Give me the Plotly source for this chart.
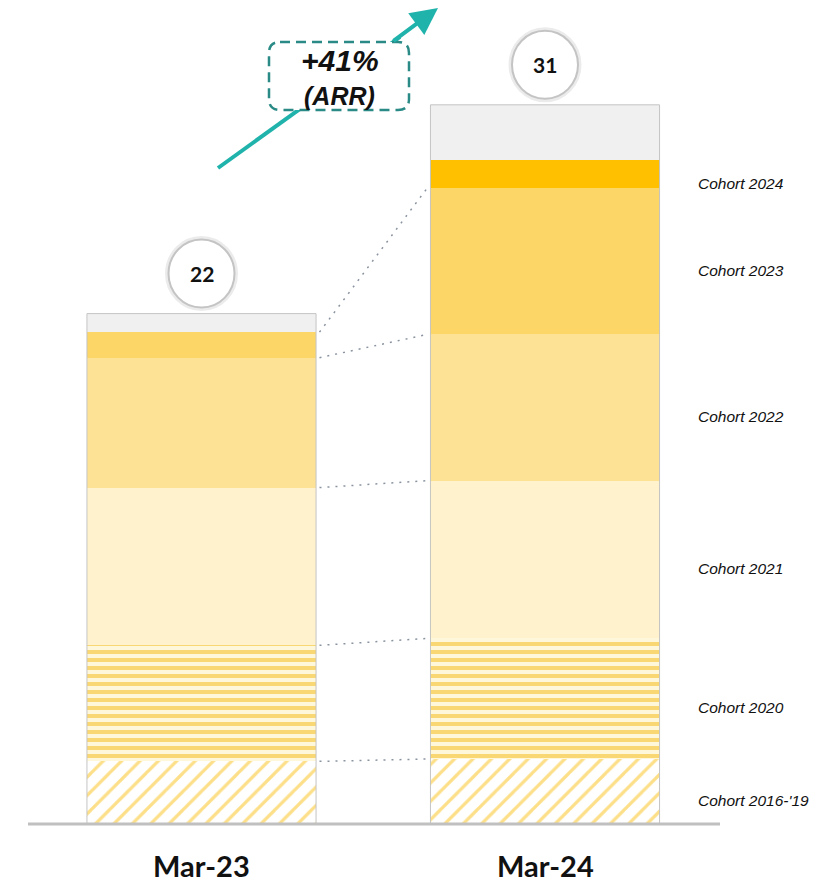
import plotly.graph_objects as go

# ---- data ----
periods = ["Mar-23", "Mar-24"]
totals = [22, 31]
cohorts = ["Cohort 2016-'19", "Cohort 2020", "Cohort 2021", "Cohort 2022",
           "Cohort 2023", "Cohort 2024", "Other"]
arr_mar23 = [2.7, 5.0, 6.8, 5.6, 1.1, 0.0, 0.8]
arr_mar24 = [2.8, 5.2, 6.8, 6.3, 6.3, 1.2, 2.4]
growth_label = "+41%"
growth_sub = "(ARR)"

# ---- canvas geometry ----
W, H = 820, 885
BAR_W = 0.667
px_per_x = 343.5          # pixels between the two bar centres
x_first = 201.5           # pixel centre of the first bar
px_per_y = 23.2
base_px = 824             # pixel row of y = 0


def px(x):
    return x / W


def py(y):
    return 1 - y / H


x_range = [-x_first / px_per_x, (W - x_first) / px_per_x]
y_range = [-(H - base_px) / px_per_y, base_px / px_per_y]

styles = [
    dict(color="#FFFFFF", pattern=dict(shape="/", fgcolor="#FDDF88", bgcolor="#FFFFFF",
                                       size=13, solidity=0.25, fillmode="replace")),
    dict(color="#FFF7D9", pattern=dict(shape="-", fgcolor="#F9D772", bgcolor="#FFF7D9",
                                       size=8, solidity=0.5, fillmode="replace")),
    dict(color="#FFF2CC"),
    dict(color="#FDE296"),
    dict(color="#FCD767"),
    dict(color="#FFC000"),
    dict(color="#F0F0F0"),
]

fig = go.Figure()
series = [arr_mar23, arr_mar24]
for k, name in enumerate(cohorts):
    m = dict(styles[k])
    m["line"] = dict(width=0)
    fig.add_trace(go.Bar(
        x=[0, 1], y=[series[0][k], series[1][k]], name=name,
        width=BAR_W, marker=m, hoverinfo="skip", showlegend=False,
    ))

shapes = []
annotations = []

# outline around each full bar
for i, tot in enumerate(totals):
    shapes.append(dict(type="rect", xref="x", yref="y", x0=i - BAR_W / 2, x1=i + BAR_W / 2,
                       y0=0, y1=sum(series[i]), line=dict(color="#C4C4C4", width=1),
                       layer="above"))

# baseline
shapes.append(dict(type="line", xref="paper", yref="y", x0=px(28), x1=px(720), y0=0, y1=0,
                   line=dict(color="#C0C0C0", width=3), layer="above"))

# dotted connectors between matching cohort boundaries
cum = []
for s in series:
    c, acc = [], 0.0
    for v in s:
        acc += v
        c.append(acc)
    cum.append(c)
for k in range(5):
    fig.add_trace(go.Scatter(
        x=[BAR_W / 2 + 0.01, 1 - BAR_W / 2 - 0.01], y=[cum[0][k], cum[1][k]],
        mode="lines", line=dict(color="#8A94A0", width=1.5, dash="2px,6px"),
        hoverinfo="skip", showlegend=False,
    ))

# total bubbles
for i, tot in enumerate(totals):
    top = sum(series[i])
    shapes.append(dict(type="circle", xref="x", yref="y", xsizemode="pixel", ysizemode="pixel",
                       xanchor=i, yanchor=top, x0=-34, x1=34, y0=5, y1=75,
                       line=dict(color="rgba(0,0,0,0.08)", width=5), fillcolor="#FFFFFF",
                       layer="above"))
    shapes.append(dict(type="circle", xref="x", yref="y", xsizemode="pixel", ysizemode="pixel",
                       xanchor=i, yanchor=top, x0=-33, x1=33, y0=6, y1=74,
                       line=dict(color="#C4C4C4", width=2), fillcolor="#FFFFFF",
                       layer="above"))
    annotations.append(dict(x=i, y=top, xref="x", yref="y", yshift=40, showarrow=False,
                            xanchor="center", yanchor="middle",
                            text=f"<b>{tot}</b>", font=dict(family="Lato", size=21, color="#111111")))

# period labels
for i, p in enumerate(periods):
    annotations.append(dict(x=i, y=-1.8, xref="x", yref="y", showarrow=False,
                            xanchor="center", yanchor="middle",
                            text=f"<b>{p}</b>", font=dict(family="Lato", size=29, color="#111111")))

# cohort labels beside the second bar
for k, name in enumerate(cohorts[:-1]):
    mid = cum[1][k] - series[1][k] / 2
    annotations.append(dict(x=px(696), y=mid, xref="paper", yref="y", xanchor="left",
                            yanchor="middle", yshift=-9, showarrow=False, text=f"<i>{name}</i>",
                            font=dict(family="Liberation Sans", size=15.5, color="#111111")))

# growth arrow
teal = "#20B3AC"
shapes.append(dict(type="line", xref="paper", yref="paper", x0=px(218), y0=py(168),
                   x1=px(400), y1=py(37), line=dict(color=teal, width=4), layer="above"))

bx0, bx1, by0, by1, r = 269, 409, 42, 110, 11
path = (f"M{px(bx0 + r)},{py(by0)} L{px(bx1 - r)},{py(by0)} "
        f"Q{px(bx1)},{py(by0)} {px(bx1)},{py(by0 + r)} "
        f"L{px(bx1)},{py(by1 - r)} Q{px(bx1)},{py(by1)} {px(bx1 - r)},{py(by1)} "
        f"L{px(bx0 + r)},{py(by1)} Q{px(bx0)},{py(by1)} {px(bx0)},{py(by1 - r)} "
        f"L{px(bx0)},{py(by0 + r)} Q{px(bx0)},{py(by0)} {px(bx0 + r)},{py(by0)} Z")
shapes.append(dict(type="path", xref="paper", yref="paper", path=path, fillcolor="#FFFFFF",
                   line=dict(color="#2A8A86", width=2.5, dash="10px,6px"), layer="above"))

annotations.append(dict(x=px(438), y=py(8), xref="paper", yref="paper", ax=-46, ay=34,
                        text="", showarrow=True, arrowhead=2, arrowsize=1.35, arrowwidth=4,
                        arrowcolor=teal))
annotations.append(dict(x=px(340), y=py(60), xref="paper", yref="paper", showarrow=False,
                        xanchor="center", yanchor="middle",
                        text=f"<b><i>{growth_label}</i></b>",
                        font=dict(family="Liberation Sans", size=30, color="#111111")))
annotations.append(dict(x=px(339), y=py(96), xref="paper", yref="paper", showarrow=False,
                        xanchor="center", yanchor="middle",
                        text=f"<b><i>{growth_sub}</i></b>",
                        font=dict(family="Liberation Sans", size=25, color="#111111")))

fig.update_layout(
    width=W, height=H, margin=dict(l=0, r=0, t=0, b=0),
    paper_bgcolor="#FFFFFF", plot_bgcolor="#FFFFFF",
    barmode="stack", bargap=0,
    xaxis=dict(range=x_range, visible=False, fixedrange=True),
    yaxis=dict(range=y_range, visible=False, fixedrange=True),
    shapes=shapes, annotations=annotations,
)

fig.write_html("out.html", config={"displayModeBar": False})
